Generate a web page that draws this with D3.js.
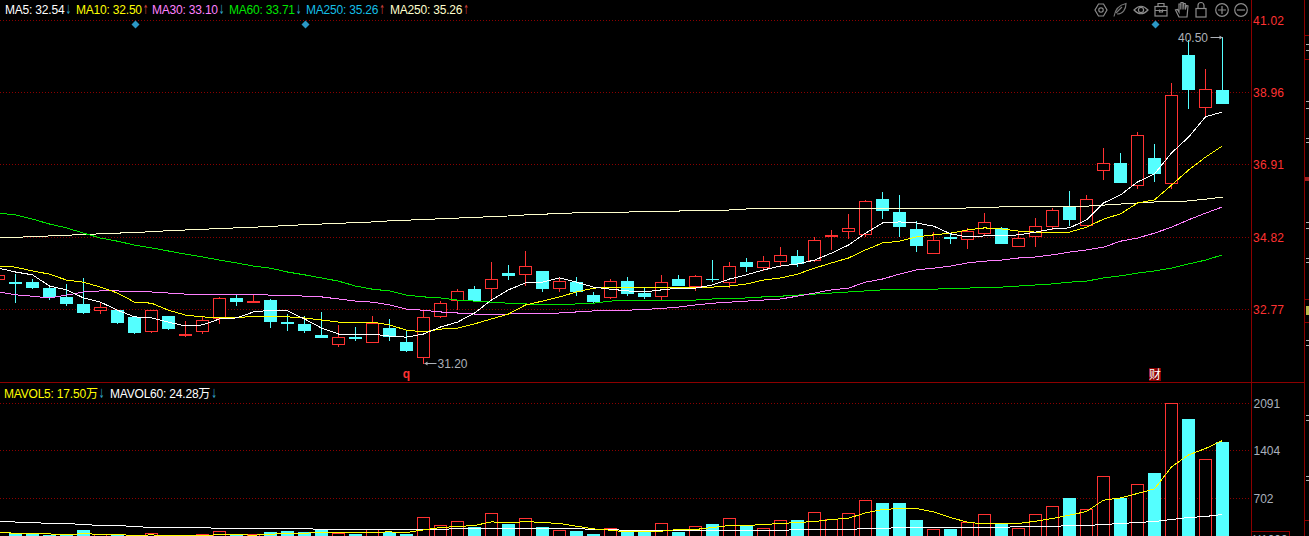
<!DOCTYPE html>
<html>
<head>
<meta charset="utf-8">
<style>
    html, body { margin: 0; padding: 0; background: #000; overflow: hidden; }
    svg { display: block; }
    text { font-family: "Liberation Sans", "Noto Sans CJK SC", sans-serif; font-size: 12px; }
</style>
<script src="https://cdn.jsdelivr.net/npm/d3@7"></script>
</head>
<body>
<div id="chart"></div>
<script>
// Daily candles, oldest first. The first one is cut off by the left edge.
const opens = [33.64,
    33.55,33.55,33.38,33.13,32.93,32.75,32.75,32.55,32.13,32.58,
    32.04,32.13,32.50,33.10,32.98,33.04,32.41,32.36,32.04,31.76,
    31.98,31.84,32.24,31.84,31.41,32.58,33.04,33.35,33.38,33.81,
    33.78,33.87,33.38,33.55,33.18,33.10,33.58,33.24,33.13,33.64,
    33.44,33.64,33.55,34.13,33.98,34.15,34.30,34.18,34.84,35.01,
    34.90,35.92,35.55,35.07,34.38,34.84,34.78,34.93,35.10,34.58,
    34.84,35.15,35.70,35.18,36.75,36.95,36.30,37.09,36.38,40.03,
    38.55,39.04];
const closes = [33.73,
    33.50,33.38,33.13,32.93,32.67,32.84,32.38,32.10,32.73,32.21,
    32.07,32.47,33.07,32.98,33.01,32.41,32.36,32.16,31.96,31.98,
    31.93,32.36,31.98,31.58,32.55,32.95,33.27,33.01,33.64,33.73,
    34.01,33.35,33.58,33.27,32.98,33.58,33.21,33.13,33.55,33.44,
    33.70,33.61,34.01,33.98,34.13,34.30,34.07,34.75,34.87,35.07,
    35.84,35.58,35.12,34.58,34.75,34.78,35.01,35.24,34.64,34.81,
    35.15,35.61,35.33,35.90,36.95,36.38,37.75,36.64,38.89,39.04,
    39.04,38.64];
const highs = [33.84,
    33.78,33.64,33.40,33.50,33.67,32.95,32.76,32.55,32.75,32.58,
    32.44,32.58,33.13,33.18,33.18,33.07,32.64,32.58,32.70,32.33,
    32.27,32.58,32.50,32.16,32.75,33.01,33.35,33.44,34.13,34.04,
    34.44,33.87,33.70,33.70,33.27,33.64,33.70,33.38,33.75,33.75,
    33.75,34.18,34.13,34.24,34.30,34.55,34.47,34.84,35.04,35.50,
    35.90,36.12,36.04,35.30,34.98,34.93,35.10,35.52,35.12,34.98,
    35.38,35.67,36.15,36.04,37.38,37.24,37.84,37.49,39.24,40.46,
    39.64,40.55];
const lows = [33.58,
    32.95,33.35,33.05,32.87,32.64,32.64,32.36,32.07,32.10,32.18,
    31.98,32.07,32.36,32.87,32.95,32.24,32.16,32.10,31.96,31.70,
    31.87,31.81,31.87,31.56,31.20,32.53,32.75,32.98,33.04,33.61,
    33.44,33.27,33.27,33.15,32.93,33.07,33.15,33.07,33.04,33.44,
    33.30,33.55,33.38,33.84,33.87,34.01,33.98,34.13,34.47,34.78,
    34.84,35.35,34.84,34.41,34.38,34.64,34.50,34.87,34.64,34.55,
    34.55,35.04,35.15,35.18,36.47,36.38,36.21,36.41,36.21,38.49,
    38.27,38.64];

const ma5 = [33.95,
    33.84,33.76,33.44,33.33,33.10,32.98,32.75,32.56,32.53,32.41,
    32.30,32.33,32.50,32.53,32.70,32.75,32.73,32.50,32.24,32.07,
    32.07,32.07,32.01,31.98,32.07,32.27,32.41,32.67,33.04,33.33,
    33.53,33.55,33.67,33.55,33.41,33.35,33.30,33.27,33.33,33.38,
    33.38,33.47,33.64,33.76,33.90,34.01,34.07,34.18,34.38,34.61,
    34.95,35.24,35.27,35.24,35.15,34.93,34.84,34.87,34.87,34.90,
    34.98,35.07,35.10,35.33,35.81,36.04,36.41,36.64,37.24,37.69,
    38.27,38.41];
const ma10 = [34.01,
    33.98,33.87,33.78,33.61,33.55,33.41,33.24,32.98,32.95,32.75,
    32.61,32.56,32.53,32.53,32.58,32.56,32.56,32.53,32.47,32.41,
    32.41,32.41,32.33,32.18,32.13,32.21,32.24,32.36,32.50,32.64,
    32.90,33.01,33.13,33.27,33.38,33.41,33.41,33.41,33.41,33.41,
    33.41,33.41,33.44,33.50,33.61,33.67,33.78,33.95,34.10,34.24,
    34.47,34.67,34.72,34.84,34.90,34.95,35.04,35.10,35.07,35.01,
    34.98,34.98,34.98,35.12,35.35,35.50,35.81,35.90,36.32,36.75,
    37.12,37.44];
const ma30 = [33.27,
    33.19,33.15,33.10,33.18,33.27,33.30,33.30,33.27,33.27,33.24,
    33.21,33.21,33.21,33.21,33.21,33.18,33.18,33.15,33.13,33.07,
    33.01,32.98,32.90,32.78,32.75,32.70,32.67,32.64,32.64,32.64,
    32.67,32.67,32.67,32.70,32.73,32.74,32.75,32.77,32.80,32.84,
    32.90,32.95,32.98,33.01,33.04,33.07,33.15,33.24,33.33,33.38,
    33.55,33.64,33.78,33.90,33.95,34.01,34.10,34.15,34.18,34.24,
    34.27,34.33,34.41,34.47,34.55,34.72,34.81,34.95,35.12,35.33,
    35.52,35.70];
const ma60 = [35.52,
    35.47,35.35,35.21,35.10,34.95,34.81,34.72,34.61,34.53,34.44,
    34.35,34.27,34.18,34.10,34.01,33.95,33.84,33.76,33.67,33.58,
    33.44,33.35,33.30,33.18,33.13,33.10,33.04,33.01,32.98,32.95,
    32.93,32.90,32.90,32.93,32.95,33.01,33.04,33.04,33.04,33.04,
    33.04,33.07,33.07,33.10,33.13,33.15,33.18,33.21,33.24,33.27,
    33.30,33.33,33.33,33.34,33.35,33.37,33.38,33.41,33.41,33.44,
    33.47,33.50,33.55,33.58,33.67,33.73,33.81,33.87,33.95,34.07,
    34.18,34.33];
const ma250 = [34.81,
    34.83,34.85,34.87,34.89,34.91,34.93,34.95,34.97,34.99,35.02,
    35.04,35.06,35.08,35.10,35.12,35.14,35.17,35.19,35.21,35.23,
    35.25,35.27,35.30,35.32,35.34,35.36,35.38,35.40,35.42,35.44,
    35.47,35.49,35.51,35.53,35.55,35.55,35.55,35.58,35.58,35.58,
    35.61,35.61,35.61,35.64,35.64,35.64,35.64,35.64,35.64,35.64,
    35.64,35.64,35.64,35.64,35.64,35.64,35.67,35.67,35.70,35.70,
    35.70,35.70,35.72,35.72,35.75,35.78,35.81,35.84,35.84,35.87,
    35.92,35.98];

const volumes = [130,
    199,184,165,175,238,170,161,146,190,132,
    165,180,224,175,170,209,224,209,249,190,
    180,243,213,180,424,307,365,282,482,326,
    409,282,234,224,180,263,219,213,336,209,
    292,326,409,307,263,380,385,497,395,482,
    677,633,633,385,249,253,351,468,336,263,
    468,585,706,545,1023,711,906,1072,2091,1861,
    1272,1525];
const mavol5 = [205,
    194,184,184,170,190,175,175,161,170,155,
    155,165,170,175,165,180,190,194,205,209,
    205,209,213,205,243,278,292,307,360,345,
    365,351,336,297,257,238,213,219,224,249,
    249,278,307,307,322,336,351,365,395,414,
    491,541,556,556,506,424,355,330,330,336,
    370,409,458,512,677,711,775,842,1164,1339,
    1433,1550];
const mavol60 = [365,
    358,351,336,336,322,307,307,292,278,278,
    278,278,263,263,263,263,263,263,249,249,
    249,249,249,249,249,249,263,263,263,263,
    263,263,263,263,249,249,234,234,234,234,
    234,234,234,234,234,234,249,249,249,249,
    263,263,278,278,278,278,278,278,278,292,
    292,292,307,307,322,336,351,365,395,424,
    439,468];

const priceTicks = [41.02, 38.96, 36.91, 34.82, 32.77];
const volumeTicks = [2091, 1404, 702];
const volumeUnitLabel = 'X1000';
const highLabel = '40.50';
const lowLabel = '31.20';

// Positions in the candle arrays of the markers along the chart
const eventDays = [8, 18, 68];
const qDay = 24;
const reportDay = 68;
const lowDay = 25;
const highDay = 72;

const priceLegend = [
    {text: 'MA5: 32.54', color: '#ffffff', arrow: '↓'},
    {text: 'MA10: 32.50', color: '#ffff00', arrow: '↑'},
    {text: 'MA30: 33.10', color: '#ff80ff', arrow: '↓'},
    {text: 'MA60: 33.71', color: '#00e600', arrow: '↓'},
    {text: 'MA250: 35.26', color: '#14bfe6', arrow: '↑'},
    {text: 'MA250: 35.26', color: '#ffffcc', arrow: '↑'}
];
const volumeLegend = [
    {text: 'MAVOL5: 17.50万', color: '#ffff00', arrow: '↓'},
    {text: 'MAVOL60: 24.28万', color: '#ffffff', arrow: '↓'}
];

const width = 1309, height = 536;
const upColor = '#ff3232', downColor = '#54ffff', frameColor = '#8c0000';
const days = d3.range(opens.length);

const svg = d3.select('#chart').append('svg')
    .attr('width', width)
    .attr('height', height)
    .style('background', '#000');

// Set up scales
let xScale = d3.scalePoint().domain(days).range([-1.5, 1222.5]);
let yPrice = d3.scaleLinear().domain([41.02, 32.77]).range([20.5, 309.5]);
let yVolume = d3.scaleLinear().domain([0, 2091]).range([546.5, 403.5]);

// Dotted grid lines
let grid = svg.append('g').attr('shape-rendering', 'crispEdges');
let gridRows = priceTicks.map(d => yPrice(d)).concat(volumeTicks.map(d => yVolume(d)));
grid.selectAll('line')
    .data(gridRows)
    .enter().append('line')
    .attr('x1', 0)
    .attr('x2', 1251)
    .attr('y1', d => d)
    .attr('y2', d => d)
    .attr('stroke', frameColor)
    .attr('stroke-dasharray', '1 2');

// Frame lines
let frame = svg.append('g').attr('shape-rendering', 'crispEdges').attr('stroke', frameColor);
frame.append('line').attr('x1', 0).attr('x2', 1305).attr('y1', 382.5).attr('y2', 382.5);
frame.append('line').attr('x1', 1251.5).attr('x2', 1251.5).attr('y1', 0).attr('y2', height);
frame.append('line').attr('x1', 1304.5).attr('x2', 1304.5).attr('y1', 0).attr('y2', height);

// Candles
let candles = svg.append('g').attr('shape-rendering', 'crispEdges')
    .selectAll('g')
    .data(days)
    .enter().append('g');

candles.append('line')
    .attr('x1', d => xScale(d))
    .attr('x2', d => xScale(d))
    .attr('y1', d => yPrice(highs[d]))
    .attr('y2', d => yPrice(lows[d]))
    .attr('stroke', d => closes[d] >= opens[d] ? upColor : downColor);

candles.append('rect')
    .attr('x', d => closes[d] >= opens[d] ? xScale(d) - 6 : xScale(d) - 6.5)
    .attr('width', d => closes[d] >= opens[d] ? 12 : 13)
    .attr('y', d => yPrice(Math.max(opens[d], closes[d])))
    .attr('height', d => Math.abs(yPrice(opens[d]) - yPrice(closes[d])))
    .attr('fill', d => closes[d] >= opens[d] ? '#000' : downColor)
    .attr('stroke', d => closes[d] >= opens[d] ? upColor : 'none');

// Volume bars, the baseline lies under the bottom edge of the window
svg.append('g').attr('shape-rendering', 'crispEdges')
    .selectAll('rect')
    .data(days)
    .enter().append('rect')
    .attr('x', d => closes[d] >= opens[d] ? xScale(d) - 6 : xScale(d) - 6.5)
    .attr('width', d => closes[d] >= opens[d] ? 12 : 13)
    .attr('y', d => yVolume(volumes[d]))
    .attr('height', d => yVolume(0) - yVolume(volumes[d]))
    .attr('fill', d => closes[d] >= opens[d] ? '#000' : downColor)
    .attr('stroke', d => closes[d] >= opens[d] ? upColor : 'none');

// Moving averages
function drawLine(values, yScale, color) {
    let line = d3.line()
        .x((d, i) => xScale(i))
        .y(d => yScale(d));

    svg.append('path')
        .datum(values)
        .attr('d', line)
        .attr('fill', 'none')
        .attr('stroke', color)
        .attr('stroke-width', 1)
        .attr('shape-rendering', 'crispEdges');
}

drawLine(ma250, yPrice, '#14bfe6');
drawLine(ma250, yPrice, '#ffffcc');
drawLine(ma60, yPrice, '#00e600');
drawLine(ma30, yPrice, '#ff80ff');
drawLine(ma10, yPrice, '#ffff00');
drawLine(ma5, yPrice, '#ffffff');
drawLine(mavol60, yVolume, '#ffffff');
drawLine(mavol5, yVolume, '#ffff00');

// Axis labels
svg.append('g').selectAll('text')
    .data(priceTicks)
    .enter().append('text')
    .attr('x', 1253)
    .attr('y', d => yPrice(d) + 4.5)
    .attr('fill', upColor)
    .attr('textLength', 31)
    .text(d => d.toFixed(2));

svg.append('g').selectAll('text')
    .data(volumeTicks)
    .enter().append('text')
    .attr('x', 1253.5)
    .attr('y', d => yVolume(d) + 4.5)
    .attr('fill', '#a9b0bd')
    .text(d => d);

svg.append('rect')
    .attr('x', 1251.5)
    .attr('y', 531.5)
    .attr('width', 38)
    .attr('height', 20)
    .attr('fill', '#000')
    .attr('stroke', frameColor)
    .attr('shape-rendering', 'crispEdges');
svg.append('text')
    .attr('x', 1253)
    .attr('y', 544)
    .attr('fill', '#a9b0bd')
    .text(volumeUnitLabel);

// Legends, the arrow glyph is squeezed into the tall thin shape of the original
function drawLegend(items, xs, y) {
    items.forEach((item, i) => {
        let label = svg.append('text')
            .attr('x', xs[i])
            .attr('y', y)
            .attr('fill', item.color)
            .attr('letter-spacing', '-0.2px')
            .text(item.text);

        let arrowX = xs[i] + label.node().getComputedTextLength() + 1;
        svg.append('text')
            .attr('transform', 'translate(' + arrowX + ',' + y + ') scale(0.55,1.05)')
            .attr('fill', item.arrow === '↑' ? '#c8403a' : '#2f9fc0')
            .style('font-family', '"DejaVu Sans"')
            .text(item.arrow);
    });
}
drawLegend(priceLegend, [5, 76, 152, 229, 306, 390], 14);
drawLegend(volumeLegend, [4, 110], 397.5);

// Event diamonds along the top
svg.append('g').selectAll('path')
    .data(eventDays)
    .enter().append('path')
    .attr('d', d3.symbol().type(d3.symbolSquare).size(32))
    .attr('transform', d => 'translate(' + (xScale(d) + 1) + ',24.5) rotate(45)')
    .attr('fill', '#2b97c5');

// Day markers over the separator
svg.append('text')
    .attr('x', xScale(qDay))
    .attr('y', 377.5)
    .attr('text-anchor', 'middle')
    .attr('fill', upColor)
    .attr('font-weight', 'bold')
    .text('q');

svg.append('rect')
    .attr('x', xScale(reportDay) - 5.5)
    .attr('y', 368)
    .attr('width', 12)
    .attr('height', 13)
    .attr('fill', '#8c0000');
svg.append('text')
    .attr('x', xScale(reportDay) + 0.5)
    .attr('y', 379)
    .attr('text-anchor', 'middle')
    .attr('fill', '#fff')
    .text('财');

// Highest and lowest price callouts
let calloutColor = '#adb1b8';

function drawArrow(x1, x2, y) {
    let dir = x2 > x1 ? 1 : -1;
    svg.append('line')
        .attr('x1', x1)
        .attr('x2', x2)
        .attr('y1', y)
        .attr('y2', y)
        .attr('stroke', calloutColor);
    svg.append('path')
        .attr('d', 'M' + x2 + ',' + y + 'l' + (-3 * dir) + ',-2v4z')
        .attr('fill', calloutColor);
}

let highY = Math.round(yPrice(highs[highDay])) + 0.5;
drawArrow(xScale(highDay) - 12, xScale(highDay), highY);
svg.append('text')
    .attr('x', xScale(highDay) - 14.5)
    .attr('y', highY + 4)
    .attr('text-anchor', 'end')
    .attr('fill', calloutColor)
    .text(highLabel);

let lowY = Math.round(yPrice(lows[lowDay])) - 0.5;
drawArrow(xScale(lowDay) + 13, xScale(lowDay) + 1, lowY);
svg.append('text')
    .attr('x', xScale(lowDay) + 14)
    .attr('y', lowY + 4)
    .attr('fill', calloutColor)
    .text(lowLabel);

// Toolbar icons
let tools = svg.append('g')
    .attr('fill', 'none')
    .attr('stroke', '#8c8c8c')
    .attr('stroke-width', 1.2);

function tool(x) {
    return tools.append('g').attr('transform', 'translate(' + x + ',10)');
}

let gear = tool(1101);
gear.append('path').attr('d', 'M-2.5,-6 L2.5,-6 L6,0 L2.5,6 L-2.5,6 L-6,0 Z');
gear.append('circle').attr('r', 2.2);

tool(1120).append('path')
    .attr('d', 'M-6,6.5 C-5,0 -1,-5 6,-6.5 C6,-1 3,4 -3,4 M-4,3 L2,-3')
    .attr('stroke', '#777');

let eye = tool(1141);
eye.append('path').attr('d', 'M-7,0 Q0,-7.5 7,0 Q0,7.5 -7,0 Z');
eye.append('circle').attr('r', 2.6);

let box = tool(1161);
box.append('rect').attr('x', -6).attr('y', -3.5).attr('width', 12).attr('height', 9.5);
box.append('path').attr('d', 'M-3,-3.5 L-3,-6.5 L3,-6.5 L3,-3.5 M-6,0.5 L6,0.5 M-1.5,-0.5 L-1.5,2 L1.5,2 L1.5,-0.5');

tool(1182).append('path')
    .attr('d', 'M-3,7 L-6.5,0 L-4.5,-0.5 L-3,2 L-3,-6 L-1.2,-6 L-1.2,-0.5 L-1,-7.5 L1,-7.5 L1,-0.5 L1.5,-6.5 L3.2,-6.5 L3.2,-0.5 L4.5,-4.5 L6,-4 L5,7 Z');

let lock = tool(1201);
lock.append('rect').attr('x', -5).attr('y', -1.5).attr('width', 10).attr('height', 8.5);
lock.append('path').attr('d', 'M-3,-1.5 L-3,-4.5 A3,3 0 0 1 3,-4.5 L3,-1.5');

let plus = tool(1222);
plus.append('circle').attr('r', 6.3);
plus.append('path').attr('d', 'M-4,0 L4,0 M0,-4 L0,4');

let minus = tool(1241);
minus.append('circle').attr('r', 6.3);
minus.append('path').attr('d', 'M-4,0 L4,0');

// Side panel cut off by the right edge, only scraps of it show
let side = svg.append('g').attr('shape-rendering', 'crispEdges');
side.selectAll('line')
    .data([35.5, 59.5, 299.5, 322.5, 520.5])
    .enter().append('line')
    .attr('x1', 1305)
    .attr('x2', width)
    .attr('y1', d => d)
    .attr('y2', d => d)
    .attr('stroke', frameColor);
side.append('rect')
    .attr('x', 1305)
    .attr('y', 177)
    .attr('width', 4)
    .attr('height', 4)
    .attr('fill', '#a02020');
side.selectAll('.scrap')
    .data([44, 50, 101, 108, 138, 142, 222, 228, 258, 262, 340, 345, 415, 420, 476, 480])
    .enter().append('rect')
    .classed('scrap', true)
    .attr('x', 1306)
    .attr('y', d => d)
    .attr('width', 3)
    .attr('height', 1)
    .attr('fill', '#b5b5b5');
side.append('rect')
    .attr('x', 1306)
    .attr('y', 306)
    .attr('width', 3)
    .attr('height', 9)
    .attr('fill', '#b8b84a');
</script>
</body>
</html>
